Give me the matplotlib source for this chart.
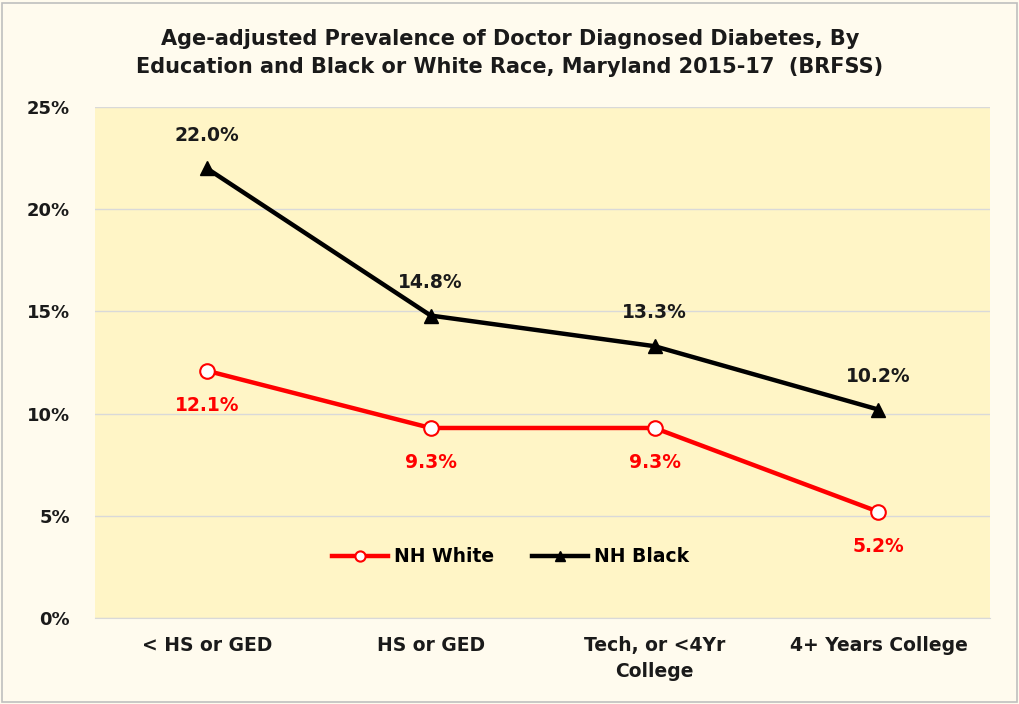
import matplotlib
matplotlib.use("Agg")
import matplotlib.pyplot as plt
from matplotlib.patches import Rectangle

categories = ["< HS or GED", "HS or GED", "Tech, or <4Yr\nCollege", "4+ Years College"]
nh_white = [12.1, 9.3, 9.3, 5.2]
nh_black = [22.0, 14.8, 13.3, 10.2]
yticks = [0, 5, 10, 15, 20, 25]
title = "Age-adjusted Prevalence of Doctor Diagnosed Diabetes, By\nEducation and Black or White Race, Maryland 2015-17  (BRFSS)"

plt.rcParams['font.family'] = ['DejaVu Sans']
fig = plt.figure(figsize=(10.2, 7.04), dpi=100)
fig.patch.set_facecolor('#FFFBEE')
fig.patches.append(Rectangle((0.002, 0.003), 0.995, 0.993, transform=fig.transFigure,
                             fill=False, edgecolor='#BFBFBF', linewidth=1.2))
ax = fig.add_axes([0.093, 0.122, 0.878, 0.726])
ax.set_facecolor('#FFF5C6')

x = list(range(len(categories)))
ax.plot(x, nh_white, color='#FF0000', lw=3.2, marker='o', markersize=10.5,
        markerfacecolor='white', markeredgecolor='#FF0000', markeredgewidth=1.5,
        label='NH White', zorder=3)
ax.plot(x, nh_black, color='black', lw=3.2, marker='^', markersize=10.5,
        markerfacecolor='black', label='NH Black', zorder=3)

for xi, v in zip(x, nh_black):
    ax.annotate(f"{v:.1f}%", (xi, v), xytext=(0, 24), textcoords='offset points',
                ha='center', va='center', fontsize=13.5, fontweight='bold', color='#1a1a1a')
for xi, v in zip(x, nh_white):
    ax.annotate(f"{v:.1f}%", (xi, v), xytext=(0, -25), textcoords='offset points',
                ha='center', va='center', fontsize=13.5, fontweight='bold', color='#FF0000')

ax.set_xlim(-0.5, len(categories) - 0.5)
ax.set_ylim(0, 25)
ax.set_yticks(yticks)
ax.set_yticklabels([f"{t}%" for t in yticks], fontsize=13, fontweight='bold', color='#1a1a1a')
ax.set_xticks(x)
ax.set_xticklabels(categories, fontsize=13.5, fontweight='bold', color='#1a1a1a', linespacing=1.45)
ax.tick_params(axis='both', length=0)
ax.tick_params(axis='x', pad=13)
ax.tick_params(axis='y', pad=18)
ax.grid(axis='y', color='#D9D9D9', lw=1)
ax.set_axisbelow(True)
for s in ['top', 'right', 'left']:
    ax.spines[s].set_visible(False)
ax.spines['bottom'].set_color('#D9D9D9')

leg = ax.legend(loc='center', bbox_to_anchor=(0.464, 0.12), ncol=2, frameon=False,
                prop={'size': 13.5, 'weight': 'bold'}, handlelength=3.0, columnspacing=2.0,
                handletextpad=0.3, markerscale=0.7)

fig.text(0.5, 0.925, title, ha='center', va='center', fontsize=15, fontweight='bold',
         color='#1a1a1a', linespacing=1.5)

fig.savefig('out.png', dpi=100, facecolor=fig.get_facecolor())
